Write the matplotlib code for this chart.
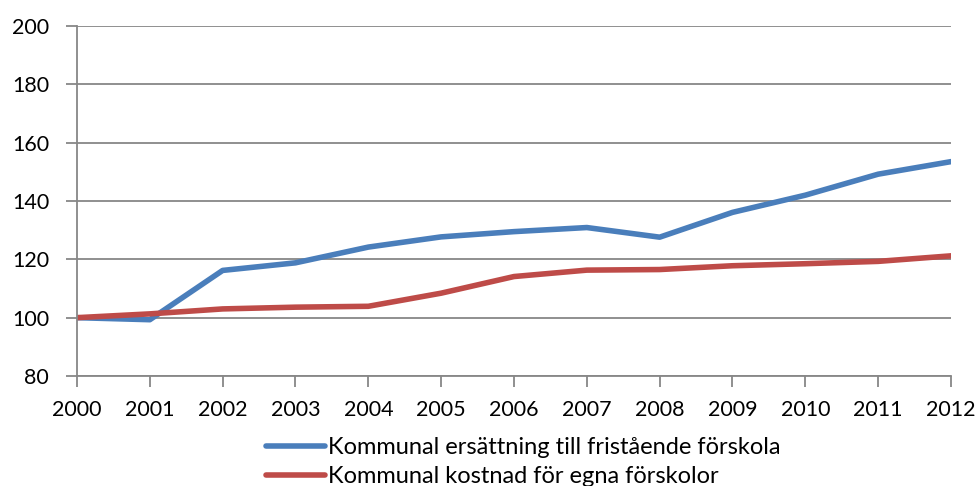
import matplotlib.pyplot as plt
import numpy as np

years = [2000, 2001, 2002, 2003, 2004, 2005, 2006, 2007, 2008, 2009, 2010, 2011, 2012]
ersattning = [100, 99.3, 116.2, 118.8, 124.2, 127.7, 129.5, 130.9, 127.6, 136.1, 142.0, 149.2, 153.5]
kostnad = [100, 101.3, 103.0, 103.6, 103.9, 108.4, 114.1, 116.3, 116.5, 117.8, 118.5, 119.3, 121.2]
labels = ['Kommunal ersättning till fristående förskola', 'Kommunal kostnad för egna förskolor']

plt.rcParams['font.family'] = ['Lato', 'DejaVu Sans']

fig = plt.figure(figsize=(9.78, 4.86), dpi=100)
ax = fig.add_axes([77/978, 1-376/486, (951-77)/978, (376-26)/486])

x = np.arange(len(years))
ax.plot(x, ersattning, color='#4a7ebb', lw=4, solid_capstyle='round', label=labels[0])
ax.plot(x, kostnad, color='#be4b48', lw=4, solid_capstyle='round', label=labels[1])

ax.set_xlim(0, len(years)-1)
ax.set_ylim(80, 200)
ax.set_yticks(range(80, 201, 20))
ax.set_xticks(x)
ax.set_xticklabels([str(y) for y in years])
ax.grid(axis='y', color='#878787', lw=1.3)
ax.set_axisbelow(True)
for s in ['top', 'right']:
    ax.spines[s].set_visible(False)
for s in ['left', 'bottom']:
    ax.spines[s].set_color('#878787')
    ax.spines[s].set_linewidth(1.3)
ax.tick_params(axis='both', colors='#878787', labelcolor='black', labelsize=15.5, width=1.3, length=8)
ax.tick_params(axis='y', pad=12)
ax.tick_params(axis='x', pad=9)

fig.legend(loc='upper center', bbox_to_anchor=(0.535, 0.125), ncol=1, frameon=False,
           fontsize=17, handlelength=2.5, handletextpad=0.1, labelspacing=0.35,
           borderpad=0)

fig.savefig('out.png', dpi=100)
